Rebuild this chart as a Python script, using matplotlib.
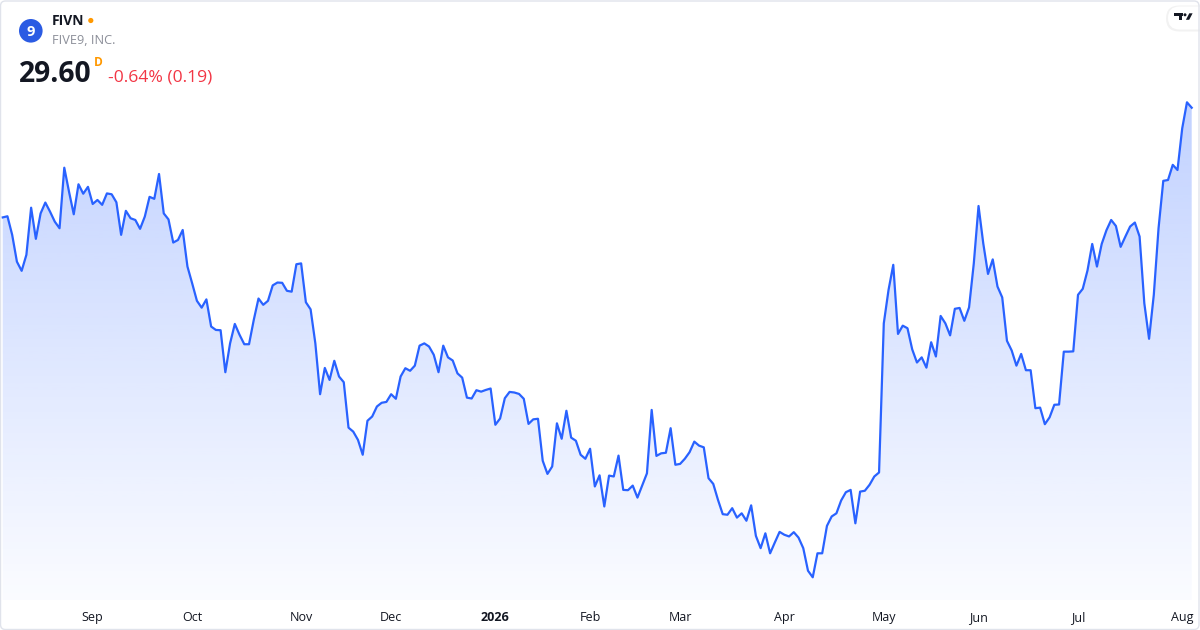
import matplotlib
matplotlib.use("Agg")
import matplotlib.pyplot as plt
import numpy as np
import pandas as pd
from matplotlib.patches import FancyBboxPatch, Circle, Polygon, Rectangle

# ---------------- data ----------------
ticker = "FIVN"
company = "FIVE9, INC."
last_price = "29.60"
change_text = "-0.64% (0.19)"

start_date = "2025-08-05"
market_holidays = ["2025-09-01", "2025-11-27", "2025-12-25", "2026-01-01", "2026-01-19",
                   "2026-02-16", "2026-04-03", "2026-05-25", "2026-06-19", "2026-07-03"]

close = [
    25.76, 25.80, 25.15, 24.21, 23.89, 24.45, 26.10, 25.01, 25.90, 26.28,
    25.96, 25.61, 25.38, 27.50, 26.66, 25.87, 26.92, 26.59, 26.83, 26.23,
    26.37, 26.20, 26.60, 26.57, 26.29, 25.15, 25.99, 25.73, 25.67, 25.36,
    25.79, 26.48, 26.41, 27.28, 25.90, 25.69, 24.88, 24.97, 25.32, 24.04,
    23.45, 22.84, 22.60, 22.89, 21.94, 21.82, 21.81, 20.34, 21.35, 22.03,
    21.65, 21.32, 21.32, 22.17, 22.92, 22.70, 22.84, 23.38, 23.48, 23.47,
    23.19, 23.16, 24.12, 24.15, 22.79, 22.54, 21.35, 19.57, 20.49, 20.07,
    20.74, 20.19, 19.99, 18.40, 18.26, 17.97, 17.45, 18.64, 18.79, 19.14,
    19.27, 19.30, 19.57, 19.41, 20.19, 20.48, 20.39, 20.57, 21.27, 21.35,
    21.24, 20.95, 20.34, 21.27, 20.86, 20.75, 20.30, 20.15, 19.45, 19.42,
    19.71, 19.66, 19.72, 19.77, 18.50, 18.72, 19.43, 19.65, 19.63, 19.58,
    19.41, 18.53, 18.69, 18.71, 17.24, 16.78, 17.04, 18.55, 18.01, 18.99,
    18.05, 17.94, 17.45, 17.31, 17.66, 16.34, 16.73, 15.64, 16.72, 16.69,
    17.42, 16.22, 16.21, 16.37, 15.95, 16.37, 16.80, 19.02, 17.41, 17.50,
    17.52, 18.38, 17.10, 17.13, 17.31, 17.54, 17.91, 17.77, 17.71, 16.63,
    16.43, 15.87, 15.37, 15.35, 15.58, 15.25, 15.40, 15.14, 15.68, 14.61,
    14.18, 14.70, 14.00, 14.38, 14.75, 14.65, 14.59, 14.74, 14.55, 14.18,
    13.39, 13.16, 14.00, 14.00, 14.96, 15.29, 15.40, 15.85, 16.14, 16.22,
    15.05, 16.16, 16.19, 16.40, 16.69, 16.83, 22.05, 23.22, 24.10, 21.68,
    21.97, 21.88, 21.14, 20.68, 20.86, 20.50, 21.39, 20.89, 22.31, 22.05,
    21.63, 22.56, 22.59, 22.14, 22.61, 24.15, 26.16, 24.85, 23.78, 24.29,
    23.34, 22.96, 21.44, 21.10, 20.57, 20.98, 20.41, 20.41, 19.08, 19.10,
    18.52, 18.76, 19.20, 19.21, 21.06, 21.06, 21.07, 23.05, 23.26, 23.90,
    24.83, 24.04, 24.83, 25.31, 25.67, 25.46, 24.73, 25.09, 25.44, 25.58,
    25.09, 22.75, 21.51, 23.05, 25.38, 27.04, 27.07, 27.60, 27.42, 28.88,
    29.79, 29.60,
]

month_labels = ["Sep", "Oct", "Nov", "Dec", "2026", "Feb", "Mar", "Apr", "May", "Jun", "Jul", "Aug"]

# ---------------- derived ----------------
dates = pd.bdate_range(start_date, periods=len(close), freq="C", holidays=market_holidays)
idx = np.arange(len(close))
month_starts = [i for i in range(1, len(dates)) if dates[i].month != dates[i - 1].month]

W, H = 1200, 630
fig = plt.figure(figsize=(W / 100, H / 100), dpi=100)
fig.patch.set_facecolor("white")
plt.rcParams["font.family"] = ["Open Sans", "DejaVu Sans"]

# pane: pixel rows 1..600 (top-left origin), columns 1..1198
ax = fig.add_axes([1 / W, (H - 600) / H, 1197 / W, 599 / H])
ax.set_facecolor("none")

line_color = "#2962FF"
ax.plot(idx, close, color=line_color, lw=1.6, zorder=3, solid_joinstyle="round")

# y-limits so that the data occupies the same band as in the reference
cmax, cmin = max(close), min(close)
ppu = (577.3 - 102.3) / (cmax - cmin)
y_hi = cmax + (102.3 - 1) / ppu
y_lo = cmin - (600 - 577.3) / ppu
x_lo = -(2.7 - 1) / 4.737
x_hi = (len(close) - 1) + (1198 - 1191.7) / 4.737

# gradient area fill
n = 256
rgba = np.zeros((n, 1, 4))
rgba[..., 0] = 41 / 255
rgba[..., 1] = 98 / 255
rgba[..., 2] = 255 / 255
g_top = cmax + (102.3 - 100) / ppu
rgba[:, 0, 3] = np.linspace(0.02, 0.29, n)
im = ax.imshow(rgba, extent=(x_lo, x_hi, y_lo, g_top), origin="lower",
               aspect="auto", interpolation="bilinear", zorder=1)
verts = [(idx[0], y_lo)] + list(zip(idx, close)) + [(idx[-1], y_lo)]
poly = Polygon(verts, closed=True, facecolor="none", edgecolor="none")
ax.add_patch(poly)
im.set_clip_path(poly)

ax.set_xlim(x_lo, x_hi)
ax.set_ylim(y_lo, y_hi)
for s in ax.spines.values():
    s.set_visible(False)
ax.set_yticks([])
ax.set_xticks(month_starts)
ax.set_xticklabels(month_labels[:len(month_starts)])
ax.tick_params(axis="x", length=0, pad=8.2, labelsize=9, labelcolor="#131722")
for lab in ax.get_xticklabels():
    if lab.get_text().isdigit():
        lab.set_fontweight("bold")

# ---------------- header ----------------
def fx(x):
    return x / W

def fy(y):
    return 1 - y / H

fig.add_artist(Circle((30.8, H - 30.8), 11.8, transform=None, facecolor="#2b5be3",
                      edgecolor="none", zorder=5))
fig.text(fx(31), fy(31.5), "9", color="white", fontsize=10.5, fontweight="bold",
         ha="center", va="center", zorder=6)
fig.text(fx(51.5), fy(21), ticker, fontsize=10, fontweight="bold", color="#131722",
         ha="left", va="center")
fig.add_artist(Circle((90.8, H - 20.5), 2.6, transform=None, facecolor="#ff9800",
                      edgecolor="none"))
fig.text(fx(51.5), fy(40.5), company, fontsize=9.2, color="#8c8f99", ha="left", va="center")
fig.text(fx(18.5), fy(82), last_price, fontsize=20.3, fontweight="bold", color="#131722",
         ha="left", va="baseline")
fig.text(fx(93.5), fy(66), "D", fontsize=8.6, fontweight="bold", color="#ff9800",
         ha="left", va="baseline")
fig.text(fx(107.5), fy(81.7), change_text, fontsize=12.6, color="#f23645",
         ha="left", va="baseline")

# TradingView badge (top right)
fig.add_artist(FancyBboxPatch((1166, H - 31.5), 46, 26, transform=None,
                              boxstyle="round,pad=0,rounding_size=13",
                              facecolor="#000000", alpha=0.05, edgecolor="none"))
fig.add_artist(FancyBboxPatch((1168, H - 29.5), 44, 23, transform=None,
                              boxstyle="round,pad=0,rounding_size=11.5",
                              facecolor="white", edgecolor="none"))
fig.add_artist(Rectangle((1174, H - 16.3), 8.5, 3.0, transform=None,
                         facecolor="#131722", edgecolor="none"))
fig.add_artist(Rectangle((1178.8, H - 19.8), 3.2, 6.5, transform=None,
                         facecolor="#131722", edgecolor="none"))
fig.add_artist(Circle((1185, H - 14.8), 1.5, transform=None,
                      facecolor="#131722", edgecolor="none"))
fig.add_artist(Polygon([(1189.3, H - 13.3), (1192.6, H - 13.3), (1189.2, H - 19.8),
                        (1185.9, H - 19.8)], closed=True, transform=None,
                       facecolor="#131722", edgecolor="none"))

# outer frame
fig.add_artist(FancyBboxPatch((0.5, 0.5), W - 1.5, H - 1.5, transform=None,
                              boxstyle="round,pad=0,rounding_size=5",
                              facecolor="none", edgecolor="#e0e3eb", lw=1.0, zorder=10))

fig.savefig("out.png", dpi=100, facecolor="white")
